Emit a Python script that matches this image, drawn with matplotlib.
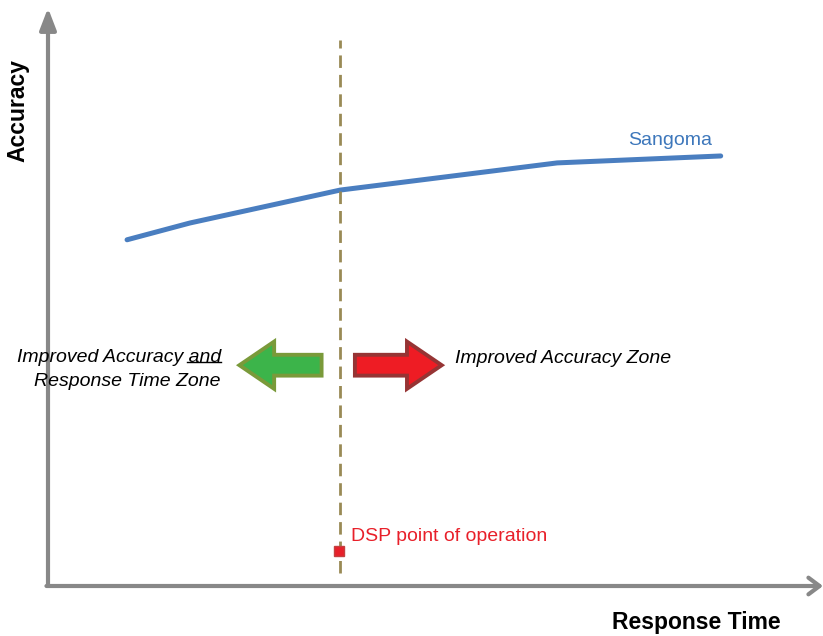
import matplotlib
matplotlib.use("Agg")
import matplotlib.pyplot as plt
from matplotlib.lines import Line2D

plt.rcParams['font.family'] = ['Liberation Sans', 'DejaVu Sans']

# ---- data (conceptual units, 0..100 on each axis) ----
resp_time = [10.2, 18.3, 37.7, 65.7, 86.8]
accuracy = [59.9, 62.8, 68.5, 73.2, 74.4]
series_name = "Sangoma"
dsp_x = 37.6
dsp_y = 6.1
dsp_label = "DSP point of operation"
left_zone = ["Improved Accuracy and", "Response Time Zone"]
right_zone = "Improved Accuracy Zone"
x_label = "Response Time"
y_label = "Accuracy"

W, H = 823, 636
fig = plt.figure(figsize=(W / 100, H / 100), dpi=100)
ax = fig.add_axes([48 / W, (H - 586) / H, (W - 48) / W, (586 - 8) / H])
ax.set_xlim(0, 100)
ax.set_ylim(0, 100)
ax.axis('off')

axis_col = '#888888'
# axes with arrowheads
ax.annotate('', xy=(0, 100), xytext=(0, 0),
            arrowprops=dict(arrowstyle='-|>,head_length=0.65,head_width=0.25',
                            lw=3, color=axis_col, mutation_scale=20,
                            shrinkA=0, shrinkB=0), annotation_clip=False)
ax.annotate('', xy=(100, 0), xytext=(-0.2, 0),
            arrowprops=dict(arrowstyle='->,head_length=0.4,head_width=0.3',
                            lw=3, color=axis_col, mutation_scale=20,
                            shrinkA=0, shrinkB=0), annotation_clip=False)

# Sangoma line
ax.plot(resp_time, accuracy, color='#4a7ec0', lw=3.6, solid_capstyle='round',
        solid_joinstyle='round', clip_on=False)
ax.text(85.7, 77.0, series_name, color='#3d77bb', fontsize=14,
        ha='right', va='center')

# dashed vertical line
ax.plot([resp_time[2], resp_time[2]], [2.2, 94.5], color='#998a55', lw=2.0,
        dashes=(4.5, 2.5), clip_on=False)

# DSP point
ax.plot([dsp_x], [dsp_y], marker='s', markersize=7.5, markerfacecolor='#e8202a',
        markeredgecolor='#c44040', markeredgewidth=1, clip_on=False, zorder=5)
ax.text(39.1, 8.65, dsp_label, color='#e8202a', fontsize=14, ha='left',
        va='center')

# zone arrows
arrow_style = 'simple,head_length=25,head_width=34,tail_width=15'
ax.annotate('', xy=(24.7, 38.2), xytext=(35.3, 38.2),
            arrowprops=dict(arrowstyle=arrow_style, mutation_scale=1,
                            fc='#3cb44a', ec='#7a9a3a', lw=2.8,
                            shrinkA=0, shrinkB=0, joinstyle='miter'))
ax.annotate('', xy=(50.8, 38.2), xytext=(39.6, 38.2),
            arrowprops=dict(arrowstyle=arrow_style, mutation_scale=1,
                            fc='#ee1c24', ec='#963434', lw=2.8,
                            shrinkA=0, shrinkB=0, joinstyle='miter'))

# zone texts
xr = 22.3
t1 = ax.text(xr, 39.6, left_zone[0], fontsize=14, style='italic',
             ha='right', va='center', clip_on=False)
ax.text(xr, 35.3, left_zone[1], fontsize=14, style='italic',
        ha='right', va='center', clip_on=False)
ax.text(52.5, 39.4, right_zone, fontsize=14, style='italic',
        ha='left', va='center')

# underline "and"
fig.canvas.draw()
r = fig.canvas.get_renderer()
tm = ax.text(xr, 39.6, left_zone[0].split()[-1], fontsize=14, style='italic',
             ha='right', va='center')
bb = tm.get_window_extent(r)
tm.remove()
tb = t1.get_window_extent(r)
uy = tb.y0 + 3.5
fig.add_artist(Line2D([bb.x0 - 1, bb.x1], [uy, uy], color='black', lw=1.0,
                      transform=None))

# axis labels
fig.text(696 / W, 1 - 623 / H, x_label, fontsize=16.5, fontweight='bold',
         ha='center', va='center')
fig.text(18 / W, 1 - 111 / H, y_label, fontsize=16.5, fontweight='bold',
         ha='center', va='center', rotation=90)

fig.savefig('out.png', dpi=100)
